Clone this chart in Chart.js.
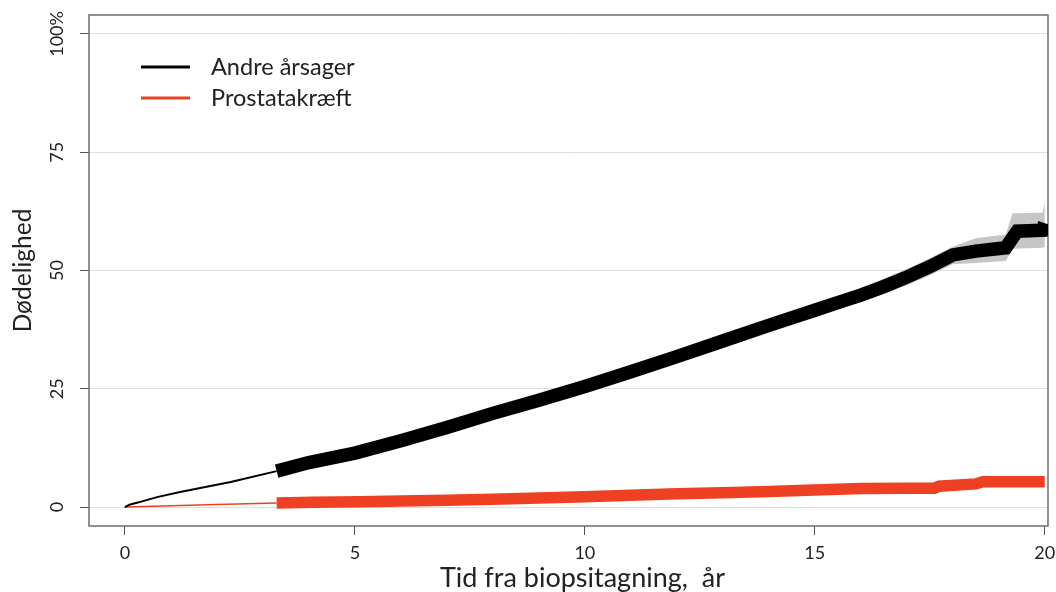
<!DOCTYPE html>
<html lang="da">
<head>
<meta charset="UTF-8">
<title>Dødelighed efter biopsitagning</title>
<script src="https://cdn.jsdelivr.net/npm/chart.js"></script>
<style>
  body { margin: 0; background: #fff; }
  #wrap { width: 1056px; height: 592px; position: relative; }
</style>
</head>
<body>
<div id="wrap"><canvas id="chart"></canvas></div>
<script>
// time since biopsy, years
const blackX = [0, 0.1, 0.3, 0.7, 1.2, 2.3, 3.3, 4, 5, 6, 7, 8, 9, 10, 11, 12, 13, 14, 15, 15.5, 16, 16.5, 17, 17.5, 18, 18.5, 19.15, 19.4, 19.95, 20];
const blackY = [0, 0.5, 1.0, 2.1, 3.2, 5.3, 7.6, 9.4, 11.4, 14.0, 16.8, 19.8, 22.6, 25.5, 28.6, 31.8, 35.1, 38.4, 41.6, 43.2, 44.8, 46.6, 48.6, 50.8, 53.3, 54.1, 54.8, 58.3, 58.5, 60.0];

const bandX = [14, 15, 16, 17, 17.5, 18, 18.5, 19.15, 19.3, 19.95, 20];
const bandUpper = [39.8, 42.8, 46.2, 50.3, 52.6, 55.0, 56.8, 57.6, 62.1, 62.2, 64.5];
const bandLower = [37.0, 40.4, 43.4, 46.9, 49.0, 51.3, 51.6, 52.0, 54.6, 54.8, 55.0];

const redX = [0, 1, 2, 3.3, 4.1, 5.1, 6, 7, 8, 9, 10, 11, 12, 13, 14, 15, 16, 17, 17.6, 17.7, 18.5, 18.65, 20];
const redY = [0, 0.3, 0.55, 0.85, 1.0, 1.15, 1.3, 1.45, 1.65, 1.9, 2.2, 2.5, 2.8, 3.05, 3.3, 3.6, 3.9, 4.0, 4.0, 4.4, 4.9, 5.35, 5.35];

const censorStart = 3.3;
const xTicks = [0, 5, 10, 15, 20];
const yTicks = [0, 25, 50, 75, 100];
const seriesNames = ['Andre årsager', 'Prostatakræft'];
const seriesColors = ['#000000', '#ee4123'];
const xTitle = 'Tid fra biopsitagning,  år';

const FONT = 'Lato, "Open Sans", sans-serif';

function pts(xs, ys, keep) {
    return xs.map((x, i) => ({ x: x, y: ys[i] })).filter(p => keep(p.x));
}

const legendBox = {
    id: 'legendBox',
    afterDraw(chart) {
        const ctx = chart.ctx;
        ctx.save();
        ctx.font = '23.5px ' + FONT;
        ctx.textBaseline = 'middle';
        seriesNames.forEach((name, i) => {
            const y = 67 + i * 31;
            ctx.strokeStyle = seriesColors[i];
            ctx.lineWidth = 3;
            ctx.beginPath();
            ctx.moveTo(141, y);
            ctx.lineTo(190, y);
            ctx.stroke();
            ctx.fillStyle = '#222';
            ctx.fillText(name, 211, y);
        });
        // x axis title, sits a little right of the plot centre in the original
        ctx.font = '27px ' + FONT;
        ctx.textAlign = 'left';
        ctx.fillText(xTitle, 440, 578);
        ctx.restore();
    }
};

const frame = {
    id: 'frame',
    beforeDatasetsDraw(chart) {
        const a = chart.chartArea;
        const ctx = chart.ctx;
        ctx.save();
        ctx.strokeStyle = '#6e6e6e';
        ctx.lineWidth = 1.5;
        ctx.strokeRect(a.left, a.top, a.right - a.left, a.bottom - a.top);
        ctx.restore();
    }
};

new Chart(document.getElementById('chart'), {
    type: 'line',
    data: {
        datasets: [
            {
                label: 'upper',
                data: pts(bandX, bandUpper, () => true),
                borderWidth: 0,
                pointRadius: 0,
                backgroundColor: '#c6c6c6',
                fill: '+1',
                order: 5
            },
            {
                label: 'lower',
                data: pts(bandX, bandLower, () => true),
                borderWidth: 0,
                pointRadius: 0,
                fill: false,
                order: 5
            },
            {
                label: seriesNames[0],
                data: pts(blackX, blackY, x => x <= censorStart),
                borderColor: seriesColors[0],
                borderWidth: 2,
                pointRadius: 0,
                order: 2
            },
            {
                label: seriesNames[0],
                data: pts(blackX, blackY, x => x >= censorStart),
                borderColor: seriesColors[0],
                borderWidth: 13.5,
                borderCapStyle: 'butt',
                pointRadius: 0,
                order: 1
            },
            {
                label: seriesNames[1],
                data: pts(redX, redY, x => x <= censorStart),
                borderColor: seriesColors[1],
                borderWidth: 1.5,
                pointRadius: 0,
                order: 3
            },
            {
                label: seriesNames[1],
                data: pts(redX, redY, x => x >= censorStart),
                borderColor: seriesColors[1],
                borderWidth: 11.5,
                borderCapStyle: 'butt',
                pointRadius: 0,
                order: 3
            }
        ]
    },
    options: {
        responsive: true,
        maintainAspectRatio: false,
        animation: false,
        layout: { padding: { top: 15, right: 8, left: 0, bottom: 0 } },
        plugins: {
            legend: { display: false },
            tooltip: { enabled: false }
        },
        scales: {
            x: {
                type: 'linear',
                min: -0.78,
                max: 20.07,
                afterBuildTicks: s => { s.ticks = xTicks.map(v => ({ value: v })); },
                afterFit: s => { s.height = 66; s.paddingRight = 0; s.paddingLeft = 0; },
                border: { display: false },
                grid: { drawOnChartArea: false, tickLength: 9, tickColor: '#555', tickWidth: 1 },
                ticks: { color: '#222', font: { family: FONT, size: 18 }, padding: 7, maxRotation: 0 }
            },
            y: {
                type: 'linear',
                min: -4,
                max: 104,
                afterBuildTicks: s => { s.ticks = yTicks.map(v => ({ value: v })); },
                afterFit: s => { s.width = 89; },
                border: { display: false },
                grid: { color: '#dedede', lineWidth: 1, tickLength: 9, tickColor: '#555', tickWidth: 1 },
                ticks: {
                    color: '#222',
                    font: { family: FONT, size: 18 },
                    minRotation: 90,
                    maxRotation: 90,
                    crossAlign: 'center',
                    padding: 0,
                    callback: v => v === 100 ? '100%' : String(v)
                },
                title: {
                    display: true,
                    text: 'Dødelighed',
                    color: '#222',
                    font: { family: FONT, size: 24.5 },
                    padding: { top: 8, bottom: 0 }
                }
            }
        }
    },
    plugins: [frame, legendBox]
});
</script>
</body>
</html>
